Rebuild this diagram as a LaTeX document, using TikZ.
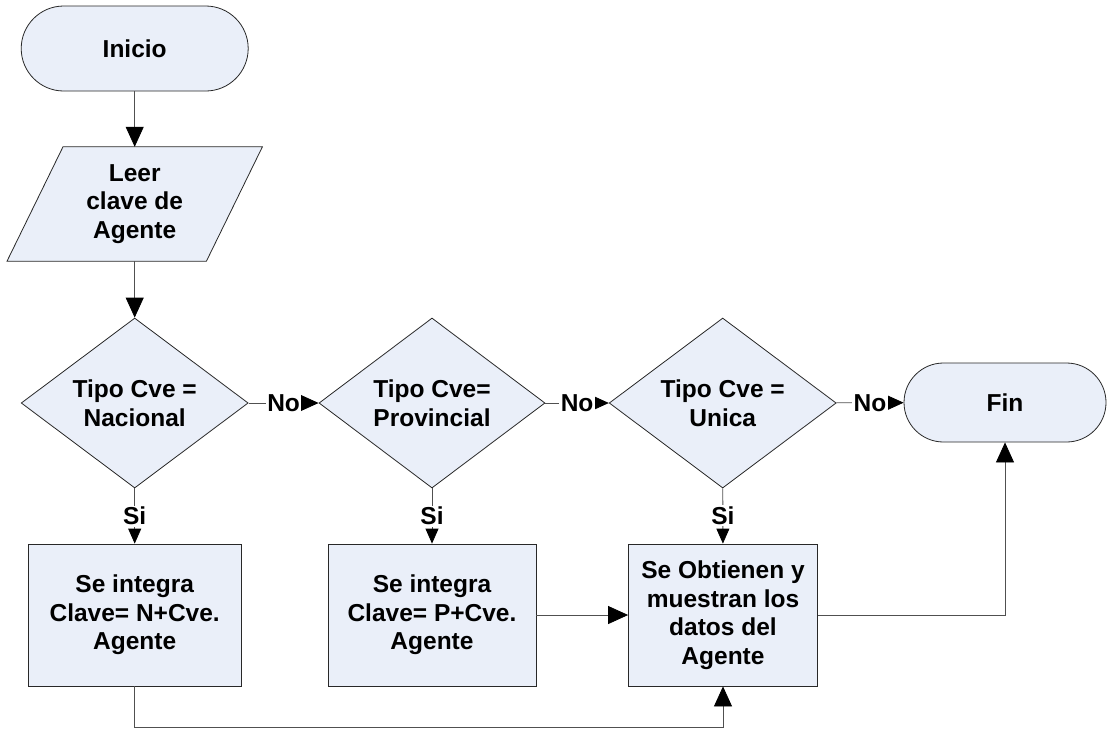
\documentclass[tikz,border=0pt]{standalone}
\usepackage{fontspec}
\setmainfont{Liberation Sans}
\usetikzlibrary{shapes.geometric,arrows.meta,backgrounds}
\definecolor{boxfill}{RGB}{234,239,249}
\definecolor{linegray}{RGB}{80,80,80}
\definecolor{bordergray}{RGB}{40,40,40}
\begin{document}
\begin{tikzpicture}[x=1pt,y=-1pt,
  every node/.style={font=\fontsize{24.5}{28.5}\selectfont\bfseries, align=center},
  shp/.style={draw=bordergray, line width=0.8pt, fill=boxfill},
  termbox/.style={shp, rectangle},
  dia/.style={shp, diamond, minimum width=227pt, minimum height=170pt, inner sep=0pt, aspect=1.335},
  procbox/.style={shp, rectangle, minimum height=142pt},
  arr/.style={draw=linegray, line width=0.8pt, -{Triangle[length=20pt,width=18pt,color=black]}},
  arrs/.style={draw=linegray, line width=0.8pt, -{Triangle[length=15pt,width=13pt,color=black]}},
  lbl/.style={fill=white, inner sep=1.5pt}
]
\useasboundingbox (0,0) rectangle (1107,729);

% nodes
\node[termbox, minimum width=227pt, minimum height=85pt, rounded corners=42.5pt] (inicio) at (134.7,48.5) {Inicio};
\node[minimum width=255pt, minimum height=114pt, inner sep=0pt] (leer) at (134.7,204) {Leer\\clave de\\Agente};
\begin{scope}[on background layer]
  \draw[shp] ([xshift=56pt]leer.north west) -- (leer.north east) -- ([xshift=-56pt]leer.south east) -- (leer.south west) -- cycle;
\end{scope}

\node[dia] (d1) at (134.7,403) {Tipo Cve =\\Nacional};
\node[dia, minimum width=226pt] (d2) at (432,403) {Tipo Cve=\\Provincial};
\node[dia] (d3) at (722.7,403) {Tipo Cve =\\Unica};
\node[termbox, minimum width=202pt, minimum height=79pt, rounded corners=39.5pt] (fin) at (1005,402.5) {Fin};

\node[procbox, minimum width=213pt] (b1) at (134.7,615) {Se integra\\Clave= N+Cve.\\Agente};
\node[procbox, minimum width=208pt] (b2) at (432,615) {Se integra\\Clave= P+Cve.\\Agente};
\node[procbox, minimum width=189pt] (b3) at (723,615) {Se Obtienen y\\muestran los\\datos del\\Agente};

\coordinate (low) at (0,727.5);

% connectors
\draw[arr] (inicio) -- (leer);
\draw[arr] (leer) -- (d1);
\draw[arr] (d1) -- node[lbl]{No} (d2);
\draw[arr] (d2) -- node[lbl]{No} (d3);
\draw[arr] (d3) -- node[lbl]{No} (fin);
\draw[arrs] (d1) -- node[lbl]{Si} (b1);
\draw[arrs] (d2) -- node[lbl]{Si} (b2);
\draw[arrs] (d3) -- node[lbl]{Si} (b3);
\draw[arr] (b2) -- (b3);
\draw[arr] (b3.east) -| (fin.south);
\draw[arr] (b1.south) -- (b1.south |- low) -| (b3.south);
\end{tikzpicture}
\end{document}
